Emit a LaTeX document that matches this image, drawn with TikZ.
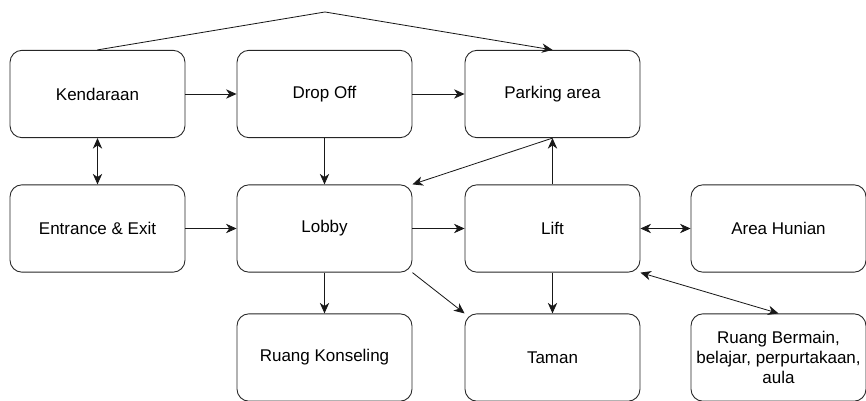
\documentclass[tikz,border=0pt]{standalone}
\usepackage{fontspec}
\setmainfont{Liberation Sans}
\usetikzlibrary{arrows.meta}
\begin{document}
\begin{tikzpicture}[x=0.03cm, y=-0.03cm,
  room/.style={draw=black!85, line width=0.75pt, rounded corners=0.36cm,
    minimum width=5.25cm, minimum height=2.62cm, align=center,
    inner sep=1pt, font=\fontsize{14.5}{17}\selectfont},
  flow/.style={draw=black!90, line width=0.7pt, -{Stealth[length=9pt,width=8pt,inset=2.8pt]}},
  both/.style={flow, {Stealth[length=9pt,width=8pt,inset=2.8pt]}-{Stealth[length=9pt,width=8pt,inset=2.8pt]}}]
\useasboundingbox (0,0) rectangle (866,401);

\node[room] (kend) at (97.5,94) {Kendaraan};
\node[room] (drop) at (324.5,94) {Drop Off};
\node[room] (park) at (552.5,94) {Parking area};

\node[room] (gate) at (97.5,228.5) {Entrance \& Exit};
\node[room] (lobby) at (324.5,228.5) {Lobby};
\node[room] (lift) at (552.5,228.5) {Lift};
\node[room] (hunian) at (778.5,228.5) {Area Hunian};

\node[room] (konsel) at (324.5,357.5) {Ruang Konseling};
\node[room] (taman) at (552.5,357.5) {Taman};
\node[room] (main) at (778.5,357.5) {Ruang Bermain,\\belajar, perpurtakaan,\\aula};

\coordinate (apex) at (325,12);

\draw[flow] (kend.north) -- (apex) -- (park.north);
\draw[flow] (kend) -- (drop);
\draw[flow] (drop) -- (park);
\draw[both] (kend) -- (gate);
\draw[flow] (drop) -- (lobby);
\draw[flow] (park.south) -- (lobby.north east);
\draw[flow] (lift) -- (park);

\draw[flow] (gate) -- (lobby);
\draw[flow] (lobby) -- (lift);
\draw[both] (lift) -- (hunian);

\draw[flow] (lobby) -- (konsel);
\draw[flow] (lobby.south east) -- (taman.north west);
\draw[flow] (lift) -- (taman);
\draw[both] (lift.south east) -- (main.north);
\end{tikzpicture}
\end{document}
